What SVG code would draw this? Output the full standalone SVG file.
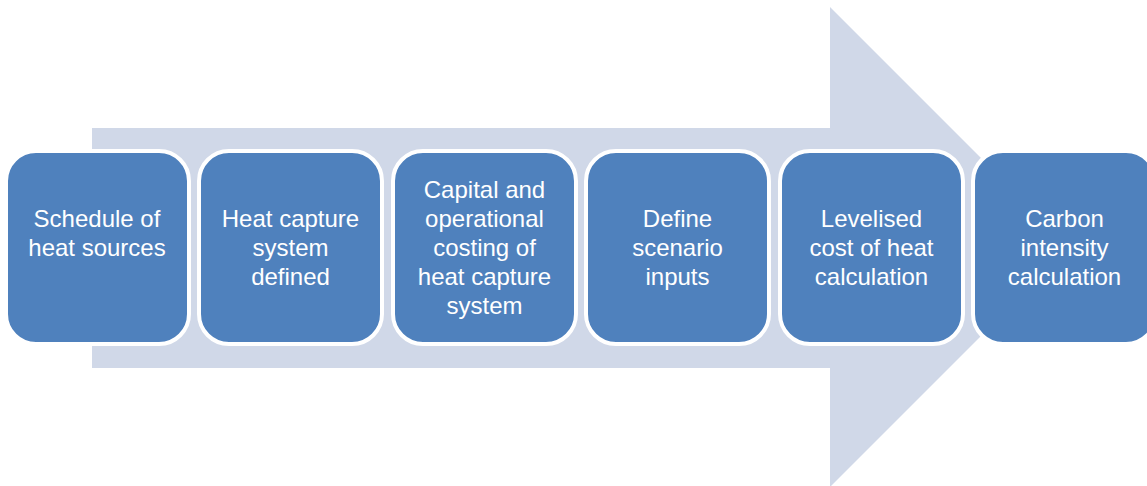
<svg xmlns="http://www.w3.org/2000/svg" width="1147" height="486" viewBox="0 0 1147 486">
<style>
.box{fill:#4F81BD;stroke:#FFFFFF;stroke-width:4}
.t{font-family:"Liberation Sans",Arial,sans-serif;font-size:24px;fill:#FFFFFF;text-anchor:middle}
</style>
<rect width="1147" height="486" fill="#FFFFFF"/>
<g id="arrow">
<polygon points="92,128 830,128 830,7 1070,247 830,487 830,368 92,368" fill="#D0D8E8"/>
</g>
<g id="connectors"></g>
<g id="n1">
<rect class="box" x="6" y="151" width="183" height="193" rx="30"/>
<text class="t" x="97" y="227">Schedule of</text>
<text class="t" x="97" y="256">heat sources</text>
</g>
<g id="n2">
<rect class="box" x="199" y="151" width="183" height="193" rx="30"/>
<text class="t" x="290.5" y="227">Heat capture</text>
<text class="t" x="290.5" y="256">system</text>
<text class="t" x="290.5" y="285">defined</text>
</g>
<g id="n3">
<rect class="box" x="393" y="151" width="183" height="193" rx="30"/>
<text class="t" x="484.5" y="198">Capital and</text>
<text class="t" x="484.5" y="227">operational</text>
<text class="t" x="484.5" y="256">costing of</text>
<text class="t" x="484.5" y="285">heat capture</text>
<text class="t" x="484.5" y="314">system</text>
</g>
<g id="n4">
<rect class="box" x="586" y="151" width="183" height="193" rx="30"/>
<text class="t" x="677.5" y="227">Define</text>
<text class="t" x="677.5" y="256">scenario</text>
<text class="t" x="677.5" y="285">inputs</text>
</g>
<g id="n5">
<rect class="box" x="780" y="151" width="183" height="193" rx="30"/>
<text class="t" x="871.5" y="227">Levelised</text>
<text class="t" x="871.5" y="256">cost of heat</text>
<text class="t" x="871.5" y="285">calculation</text>
</g>
<g id="n6">
<rect class="box" x="973" y="151" width="183" height="193" rx="30"/>
<text class="t" x="1064.5" y="227">Carbon</text>
<text class="t" x="1064.5" y="256">intensity</text>
<text class="t" x="1064.5" y="285">calculation</text>
</g>
</svg>
